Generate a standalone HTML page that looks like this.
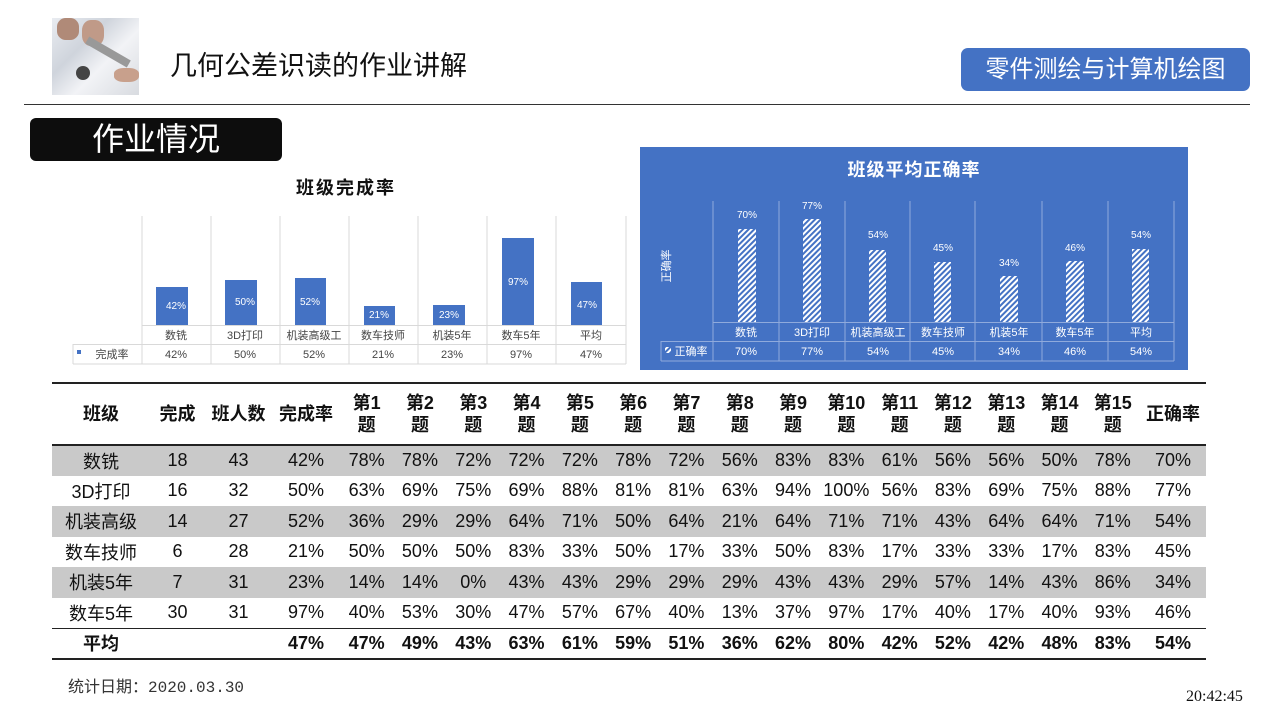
<!DOCTYPE html>
<html><head><meta charset="utf-8"><style>
*{margin:0;padding:0;box-sizing:border-box}
body{width:1280px;height:720px;background:#fff;position:relative;overflow:hidden;font-family:"Liberation Sans","Noto Sans CJK SC",sans-serif;color:#111}
.abs{position:absolute}
table{position:absolute;left:52px;top:382px;border-collapse:collapse;table-layout:fixed;font-family:"Liberation Sans Narrow","Liberation Sans","Noto Sans CJK SC",sans-serif}
td,th{text-align:center;font-size:18px;padding:0;white-space:nowrap;overflow:visible}
th{font-weight:bold;height:62px;line-height:22px;font-family:"Liberation Sans","Noto Sans CJK SC",sans-serif}
thead tr{border-top:2px solid #222;border-bottom:2px solid #222}
tbody td{height:30.5px}
tr.g td{background:#c9c9c9}
tr.avg{border-top:1.5px solid #222;border-bottom:2px solid #222}
tr.avg td{font-weight:bold;height:31px}
</style></head><body>
<div class="abs" style="left:52px;top:18px;width:87px;height:77px;background:linear-gradient(135deg,#e9ecf1 0%,#cfd4dc 35%,#f2f3f6 60%,#d8dbe0 100%)">
<div class="abs" style="left:5px;top:0;width:22px;height:22px;background:#b08a78;border-radius:40%"></div>
<div class="abs" style="left:30px;top:2px;width:22px;height:26px;background:#c09a88;border-radius:40%"></div>
<div class="abs" style="left:24px;top:48px;width:14px;height:14px;background:#444;border-radius:50%"></div>
<div class="abs" style="left:32px;top:30px;width:48px;height:8px;background:#999;transform:rotate(30deg)"></div>
<div class="abs" style="left:62px;top:50px;width:25px;height:14px;background:#c8a08c;border-radius:40%"></div>
</div>
<div class="abs" style="left:170px;top:44px;font-size:27px;color:#111">几何公差识读的作业讲解</div>
<div class="abs" style="left:961px;top:48px;width:289px;height:43px;background:#4472c4;border-radius:7px;color:#fff;font-size:24px;text-align:center;line-height:43px">零件测绘与计算机绘图</div>
<div class="abs" style="left:24px;top:104px;width:1226px;height:1px;background:#333"></div>
<div class="abs" style="left:30px;top:118px;width:252px;height:43px;background:#0d0d0d;border-radius:6px;color:#fff;font-size:32px;line-height:43px;padding-left:62px">作业情况</div>

<div class="abs" style="left:296px;top:174px;font-size:18px;font-weight:bold;letter-spacing:2px">班级完成率</div>
<svg class="abs" style="left:0;top:0" width="640" height="380">
<g stroke="#d9d9d9" stroke-width="1">
<line x1="142" y1="216" x2="142" y2="364"/><line x1="211" y1="216" x2="211" y2="364"/><line x1="280" y1="216" x2="280" y2="364"/><line x1="349" y1="216" x2="349" y2="364"/><line x1="418" y1="216" x2="418" y2="364"/><line x1="487" y1="216" x2="487" y2="364"/><line x1="556" y1="216" x2="556" y2="364"/><line x1="626" y1="216" x2="626" y2="364"/>
<line x1="142" y1="325.5" x2="626" y2="325.5"/><line x1="73" y1="344.5" x2="626" y2="344.5"/><line x1="73" y1="364" x2="626" y2="364"/><line x1="73" y1="344" x2="73" y2="364"/>
</g>
<g fill="#4472c4">
<rect x="156" y="287" width="32" height="38"/><rect x="225" y="280" width="32" height="45"/><rect x="295" y="278" width="31" height="47"/><rect x="364" y="306" width="31" height="19"/><rect x="433" y="305" width="32" height="20"/><rect x="502" y="238" width="32" height="87"/><rect x="571" y="282" width="31" height="43"/>
</g>
<g fill="#fff" font-size="10" text-anchor="middle" font-family="Liberation Sans Narrow,Liberation Sans,sans-serif">
<text x="176" y="309">42%</text><text x="245" y="305">50%</text><text x="310" y="305">52%</text><text x="379" y="318">21%</text><text x="449" y="318">23%</text><text x="518" y="285">97%</text><text x="587" y="308">47%</text>
</g>
<g fill="#444" font-size="11" text-anchor="middle" font-family="Liberation Sans,Noto Sans CJK SC,sans-serif">
<text x="176" y="339">数铣</text><text x="245" y="339">3D打印</text><text x="314" y="339">机装高级工</text><text x="383" y="339">数车技师</text><text x="452" y="339">机装5年</text><text x="521" y="339">数车5年</text><text x="591" y="339">平均</text>
<text x="176" y="358">42%</text><text x="245" y="358">50%</text><text x="314" y="358">52%</text><text x="383" y="358">21%</text><text x="452" y="358">23%</text><text x="521" y="358">97%</text><text x="591" y="358">47%</text>
<text x="112" y="358">完成率</text>
</g>
<rect x="77" y="350" width="4" height="4" fill="#4472c4"/>
</svg>

<div class="abs" style="left:640px;top:147px;width:548px;height:223px;background:#4472c4"></div>
<svg class="abs" style="left:640px;top:147px" width="548" height="223">
<defs><pattern id="h" width="4" height="4" patternUnits="userSpaceOnUse" patternTransform="rotate(45)"><rect width="4" height="4" fill="#4472c4"/><rect width="2" height="4" fill="#fff"/></pattern></defs>
<text x="274" y="29" fill="#fff" font-size="18" font-weight="bold" text-anchor="middle" letter-spacing="1" font-family="Liberation Sans,Noto Sans CJK SC,sans-serif">班级平均正确率</text>
<g stroke="#8faadc" stroke-width="1">
<line x1="73" y1="54" x2="73" y2="214"/><line x1="139" y1="54" x2="139" y2="214"/><line x1="205" y1="54" x2="205" y2="214"/><line x1="270" y1="54" x2="270" y2="214"/><line x1="335" y1="54" x2="335" y2="214"/><line x1="402" y1="54" x2="402" y2="214"/><line x1="468" y1="54" x2="468" y2="214"/><line x1="534" y1="54" x2="534" y2="214"/>
<line x1="73" y1="175.5" x2="534" y2="175.5"/><line x1="21" y1="194.5" x2="534" y2="194.5"/><line x1="21" y1="214" x2="534" y2="214"/><line x1="21" y1="194" x2="21" y2="214"/>
</g>
<g fill="url(#h)">
<rect x="98" y="82" width="18" height="93"/><rect x="163" y="72" width="18" height="103"/><rect x="229" y="103" width="17" height="72"/><rect x="294" y="115" width="17" height="60"/><rect x="360" y="129" width="18" height="46"/><rect x="426" y="114" width="18" height="61"/><rect x="492" y="102" width="17" height="73"/>
</g>
<g fill="#fff" font-size="10" text-anchor="middle" font-family="Liberation Sans Narrow,Liberation Sans,sans-serif">
<text x="107" y="71">70%</text><text x="172" y="62">77%</text><text x="238" y="91">54%</text><text x="303" y="104">45%</text><text x="369" y="119">34%</text><text x="435" y="104">46%</text><text x="501" y="91">54%</text>
</g>
<g fill="#fff" font-size="11" text-anchor="middle" font-family="Liberation Sans,Noto Sans CJK SC,sans-serif">
<text x="106" y="189">数铣</text><text x="172" y="189">3D打印</text><text x="238" y="189">机装高级工</text><text x="303" y="189">数车技师</text><text x="369" y="189">机装5年</text><text x="435" y="189">数车5年</text><text x="501" y="189">平均</text>
<text x="106" y="208">70%</text><text x="172" y="208">77%</text><text x="238" y="208">54%</text><text x="303" y="208">45%</text><text x="369" y="208">34%</text><text x="435" y="208">46%</text><text x="501" y="208">54%</text>
<text x="51" y="208">正确率</text>
<text x="0" y="0" transform="translate(30,119) rotate(-90)" font-size="11">正确率</text>
</g>
<rect x="25" y="200" width="6" height="6" fill="url(#h)"/>
</svg>

<table>
<colgroup><col style="width:98px"><col style="width:55px"><col style="width:67px"><col style="width:68px">
<col style="width:53.3px"><col style="width:53.3px"><col style="width:53.3px"><col style="width:53.3px"><col style="width:53.3px"><col style="width:53.3px"><col style="width:53.3px"><col style="width:53.3px"><col style="width:53.3px"><col style="width:53.3px"><col style="width:53.3px"><col style="width:53.3px"><col style="width:53.3px"><col style="width:53.3px"><col style="width:53.3px"><col style="width:67px"></colgroup>
<thead><tr><th>班级</th><th>完成</th><th>班人数</th><th>完成率</th><th>第1<br>题</th><th>第2<br>题</th><th>第3<br>题</th><th>第4<br>题</th><th>第5<br>题</th><th>第6<br>题</th><th>第7<br>题</th><th>第8<br>题</th><th>第9<br>题</th><th>第10<br>题</th><th>第11<br>题</th><th>第12<br>题</th><th>第13<br>题</th><th>第14<br>题</th><th>第15<br>题</th><th>正确率</th></tr></thead>
<tbody>
<tr class="g"><td>数铣</td><td>18</td><td>43</td><td>42%</td><td>78%</td><td>78%</td><td>72%</td><td>72%</td><td>72%</td><td>78%</td><td>72%</td><td>56%</td><td>83%</td><td>83%</td><td>61%</td><td>56%</td><td>56%</td><td>50%</td><td>78%</td><td>70%</td></tr>
<tr><td>3D打印</td><td>16</td><td>32</td><td>50%</td><td>63%</td><td>69%</td><td>75%</td><td>69%</td><td>88%</td><td>81%</td><td>81%</td><td>63%</td><td>94%</td><td>100%</td><td>56%</td><td>83%</td><td>69%</td><td>75%</td><td>88%</td><td>77%</td></tr>
<tr class="g"><td>机装高级</td><td>14</td><td>27</td><td>52%</td><td>36%</td><td>29%</td><td>29%</td><td>64%</td><td>71%</td><td>50%</td><td>64%</td><td>21%</td><td>64%</td><td>71%</td><td>71%</td><td>43%</td><td>64%</td><td>64%</td><td>71%</td><td>54%</td></tr>
<tr><td>数车技师</td><td>6</td><td>28</td><td>21%</td><td>50%</td><td>50%</td><td>50%</td><td>83%</td><td>33%</td><td>50%</td><td>17%</td><td>33%</td><td>50%</td><td>83%</td><td>17%</td><td>33%</td><td>33%</td><td>17%</td><td>83%</td><td>45%</td></tr>
<tr class="g"><td>机装5年</td><td>7</td><td>31</td><td>23%</td><td>14%</td><td>14%</td><td>0%</td><td>43%</td><td>43%</td><td>29%</td><td>29%</td><td>29%</td><td>43%</td><td>43%</td><td>29%</td><td>57%</td><td>14%</td><td>43%</td><td>86%</td><td>34%</td></tr>
<tr><td>数车5年</td><td>30</td><td>31</td><td>97%</td><td>40%</td><td>53%</td><td>30%</td><td>47%</td><td>57%</td><td>67%</td><td>40%</td><td>13%</td><td>37%</td><td>97%</td><td>17%</td><td>40%</td><td>17%</td><td>40%</td><td>93%</td><td>46%</td></tr>
<tr class="avg"><td>平均</td><td></td><td></td><td>47%</td><td>47%</td><td>49%</td><td>43%</td><td>63%</td><td>61%</td><td>59%</td><td>51%</td><td>36%</td><td>62%</td><td>80%</td><td>42%</td><td>52%</td><td>42%</td><td>48%</td><td>83%</td><td>54%</td></tr>
</tbody></table>

<div class="abs" style="left:68px;top:673px;font-size:16px;color:#333;font-family:'Liberation Mono','Noto Sans CJK SC',monospace">统计日期：2020.03.30</div>
<div class="abs" style="left:1186px;top:688px;font-size:16px;color:#111;font-family:'Liberation Serif',serif">20:42:45</div>
</body></html>
